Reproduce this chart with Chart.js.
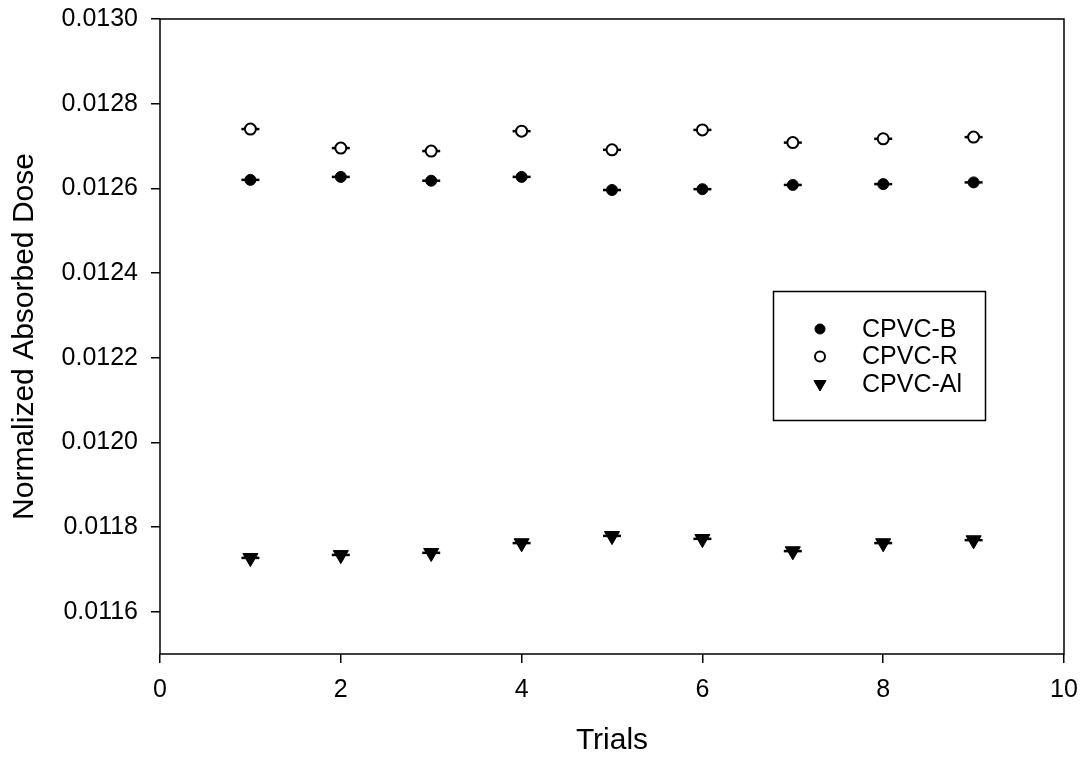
<!doctype html>
<html lang="en">
  <head>
    <meta charset="utf-8">
    <title>Normalized Absorbed Dose vs Trials</title>
    <style>
      html, body { margin: 0; padding: 0; background: #fff; }
    </style>
  </head>
  <body>
    <canvas id="myChart" width="1084" height="759"></canvas>

    <script src="https://cdn.jsdelivr.net/npm/chart.js/dist/chart.umd.min.js"></script>
    <script>
    // data
    const trials = [1, 2, 3, 4, 5, 6, 7, 8, 9];
    const cpvcB  = [0.012620, 0.012627, 0.012618, 0.012627, 0.012596, 0.012598, 0.012608, 0.012610, 0.012614];
    const cpvcR  = [0.012740, 0.012695, 0.012688, 0.012735, 0.012691, 0.012738, 0.012708, 0.012717, 0.012721];
    const cpvcAl = [0.011727, 0.011734, 0.011739, 0.011762, 0.011779, 0.011772, 0.011743, 0.011762, 0.011769];
    const seriesNames = ['CPVC-B', 'CPVC-R', 'CPVC-Al'];
    const xTicks = [0, 2, 4, 6, 8, 10];
    const yTicks = [0.0116, 0.0118, 0.0120, 0.0122, 0.0124, 0.0126, 0.0128, 0.0130];

    const pts = ys => trials.map((t, i) => ({ x: t, y: ys[i] }));

    const tickFont = { family: "'Liberation Sans', Arial, sans-serif", size: 25 };
    const titleFont = { family: "'Liberation Sans', Arial, sans-serif", size: 30 };

    // markers first so they sit on top of the little error caps
    const markers = [
      { label: seriesNames[0], data: pts(cpvcB), pointStyle: 'circle', pointRadius: 5.5,
        backgroundColor: '#000', borderColor: '#000', borderWidth: 1, legendRadius: 5 },
      { label: seriesNames[1], data: pts(cpvcR), pointStyle: 'circle', pointRadius: 5.5,
        backgroundColor: '#fff', borderColor: '#000', borderWidth: 2, legendRadius: 5 },
      { label: seriesNames[2], data: pts(cpvcAl), pointStyle: 'triangle', rotation: 180, pointRadius: 8.7,
        backgroundColor: '#000', borderColor: '#000', borderWidth: 1, legendRadius: 7 }
    ];
    const caps = [cpvcB, cpvcR, cpvcAl].map(ys => ({
      label: '', isCap: true, data: pts(ys), pointStyle: 'line', pointRadius: 9,
      borderColor: '#000', borderWidth: 2.5
    }));

    // box round the plot area
    const frame = {
      id: 'frame',
      afterDatasetsDraw(chart) {
        const { ctx, chartArea: a } = chart;
        ctx.save();
        ctx.strokeStyle = '#000';
        ctx.lineWidth = 1.5;
        ctx.strokeRect(a.left, a.top, a.right - a.left, a.bottom - a.top);
        ctx.restore();
      }
    };

    // legend inside the plot, with a border
    const boxLegend = {
      id: 'boxLegend',
      afterDraw(chart) {
        const ctx = chart.ctx;
        ctx.save();
        ctx.strokeStyle = '#000';
        ctx.lineWidth = 1.5;
        ctx.strokeRect(773.5, 291.5, 212, 129);
        ctx.font = "25px 'Liberation Sans', Arial, sans-serif";
        ctx.textBaseline = 'middle';
        chart.data.datasets.filter(d => !d.isCap).forEach((d, i) => {
          const y = 329 + i * 27.5;
          ctx.fillStyle = d.backgroundColor;
          ctx.strokeStyle = d.borderColor;
          ctx.lineWidth = d.borderWidth;
          Chart.helpers.drawPoint(ctx, {
            pointStyle: d.pointStyle, radius: d.legendRadius,
            rotation: d.rotation || 0, borderWidth: d.borderWidth
          }, 820, y);
          ctx.fillStyle = '#000';
          ctx.fillText(d.label, 862, y + 1);
        });
        ctx.restore();
      }
    };

    const config = {
      type: 'scatter',
      data: { datasets: markers.concat(caps) },
      options: {
        responsive: false,
        animation: false,
        layout: { padding: { top: 19, right: 20, left: 0, bottom: 0 } },
        plugins: { legend: { display: false }, tooltip: { enabled: false } },
        scales: {
          x: {
            type: 'linear', min: 0, max: 10,
            afterBuildTicks: s => { s.ticks = xTicks.map(v => ({ value: v })); },
            afterFit: s => { s.height = 105; s.paddingLeft = 0; s.paddingRight = 0; },
            ticks: { color: '#000', font: tickFont, padding: 12, maxRotation: 0 },
            grid: { drawOnChartArea: false, color: '#000', lineWidth: 1.5, tickLength: 9 },
            border: { display: false },
            title: { display: true, text: 'Trials', color: '#000', font: titleFont, padding: 0 }
          },
          y: {
            type: 'linear', min: 0.0115, max: 0.0130,
            afterBuildTicks: s => { s.ticks = yTicks.map(v => ({ value: v })); },
            afterFit: s => { s.width = 160; s.paddingTop = 0; s.paddingBottom = 0; },
            ticks: { color: '#000', font: tickFont, padding: 13, callback: v => v.toFixed(4) },
            grid: { drawOnChartArea: false, color: '#000', lineWidth: 1.5, tickLength: 9 },
            border: { display: false },
            title: { display: true, text: 'Normalized Absorbed Dose', color: '#000', font: titleFont, padding: 7 }
          }
        }
      },
      plugins: [frame, boxLegend]
    };

    const myChart = new Chart(document.getElementById('myChart'), config);
    </script>
  </body>
</html>
